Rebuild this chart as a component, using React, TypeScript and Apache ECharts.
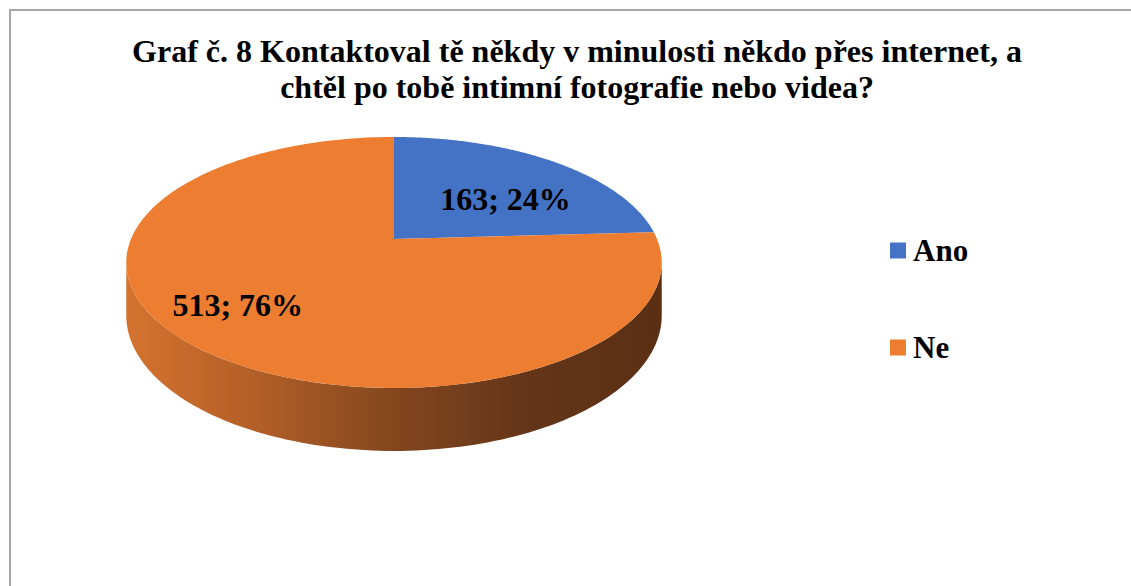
import React, { useEffect, useRef } from 'react';
import * as echarts from 'echarts';

const TITLE =
  'Graf č. 8 Kontaktoval tě někdy v minulosti někdo přes internet, a\nchtěl po tobě intimní fotografie nebo videa?';
const CATEGORIES = ['Ano', 'Ne'];
const VALUES = [163, 513];
const COLORS = ['#4472c4', '#ed7d31'];

const FONT = 'Liberation Serif';

// 3D pie projection (style constants)
const CX = 394;
const CY = 239;
const RX = 263;
const RY = 121.1;
const K = 0.187;
const DEPTH = 51.2;
const SIL0 = (Math.acos(-K) * 180) / Math.PI;
const SIL1 = 360 - SIL0;
const LABEL_R = 0.72;
const LABEL_OFFSETS = [
  [-7, 18],
  [-12, -4],
];

function proj(r: number, deg: number): number[] {
  const a = (deg * Math.PI) / 180;
  const X = r * Math.sin(a);
  const Z = r * Math.cos(a);
  const d = 1 + K * Z;
  return [CX + (RX * X) / d, CY - (RY * Z) / d];
}
function projBottom(deg: number): number[] {
  const p = proj(1, deg);
  const d = 1 + K * Math.cos((deg * Math.PI) / 180);
  return [p[0], p[1] + DEPTH / d];
}

export default function App() {
  const ref = useRef<HTMLDivElement>(null);
  useEffect(() => {
    if (!ref.current) return;
    const chart = echarts.init(ref.current, undefined, { renderer: 'svg' });
    const total = VALUES.reduce((s, v) => s + v, 0);
    const sideFill = new echarts.graphic.LinearGradient(
      127,
      0,
      663,
      0,
      [
        { offset: 0, color: '#d4732f' },
        { offset: 0.25, color: '#b15e27' },
        { offset: 0.5, color: '#83461e' },
        { offset: 0.75, color: '#643518' },
        { offset: 1, color: '#5b2f14' },
      ],
      true
    );
    const option: any = {
      animation: false,
      textStyle: { fontFamily: FONT },
      title: {
        text: TITLE,
        left: 572,
        top: 28,
        padding: 5,
        textAlign: 'center',
        textStyle: {
          fontFamily: FONT,
          fontWeight: 'bold',
          fontSize: 32,
          lineHeight: 36,
          color: '#000',
        },
      },
      legend: {
        orient: 'vertical',
        left: 885,
        top: 230,
        icon: 'rect',
        itemWidth: 16,
        itemHeight: 16,
        itemGap: 66,
        selectedMode: false,
        data: CATEGORIES,
        textStyle: {
          fontFamily: FONT,
          fontWeight: 'bold',
          fontSize: 31,
          lineHeight: 31,
          color: '#000',
          padding: [0, 0, 0, 2],
        },
      },
      graphic: [
        {
          type: 'rect',
          shape: { x: 10, y: 10, width: 1300, height: 800 },
          style: { fill: 'none', stroke: '#a6a6a6', lineWidth: 2 },
          silent: true,
        },
      ],
      series: [
        {
          type: 'pie',
          radius: [0, 0],
          center: [-100, -100],
          silent: true,
          label: { show: false },
          labelLine: { show: false },
          data: CATEGORIES.map((c, i) => ({
            name: c,
            value: VALUES[i],
            itemStyle: { color: COLORS[i] },
          })),
        },
        {
          type: 'custom',
          coordinateSystem: 'none',
          silent: true,
          data: CATEGORIES.map((c, i) => ({ name: c, value: VALUES[i] })),
          renderItem: (params: any, api: any) => {
            const i = params.dataIndex;
            const v = api.value(0);
            let start = 0;
            for (let j = 0; j < i; j++) start += VALUES[j];
            const a0 = (start / total) * 360;
            const a1 = ((start + v) / total) * 360;
            const children: any[] = [];
            const s0 = Math.max(a0, SIL0);
            const s1 = Math.min(a1, SIL1);
            if (s1 > s0) {
              const n = 120;
              const topPts: number[][] = [];
              const botPts: number[][] = [];
              for (let k = 0; k <= n; k++) {
                const a = s0 + ((s1 - s0) * k) / n;
                topPts.push(proj(1, a));
                botPts.push(projBottom(a));
              }
              children.push({
                type: 'polygon',
                shape: { points: topPts.concat(botPts.reverse()) },
                style: { fill: sideFill },
                z2: 1,
              });
            }
            const pts: number[][] = [proj(0, 0)];
            const n2 = 200;
            for (let k = 0; k <= n2; k++) {
              pts.push(proj(1, a0 + ((a1 - a0) * k) / n2));
            }
            children.push({
              type: 'polygon',
              shape: { points: pts },
              style: { fill: COLORS[i] },
              z2: 5,
            });
            const mid = (a0 + a1) / 2;
            const lp = proj(LABEL_R, mid);
            const pct = Math.round((v / total) * 100);
            children.push({
              type: 'text',
              x: lp[0] + LABEL_OFFSETS[i][0],
              y: lp[1] + LABEL_OFFSETS[i][1],
              style: {
                text: `${v}; ${pct}%`,
                fontFamily: FONT,
                fontWeight: 'bold',
                fontSize: 32,
                fill: '#000',
                align: 'center',
                verticalAlign: 'middle',
              },
              z2: 10,
            });
            return { type: 'group', children };
          },
        },
      ],
    };
    chart.setOption(option);
    return () => chart.dispose();
  }, []);
  return (
    <div
      ref={ref}
      style={{ position: 'absolute', left: 0, top: 0, width: 1131, height: 586, background: '#fff' }}
    />
  );
}
